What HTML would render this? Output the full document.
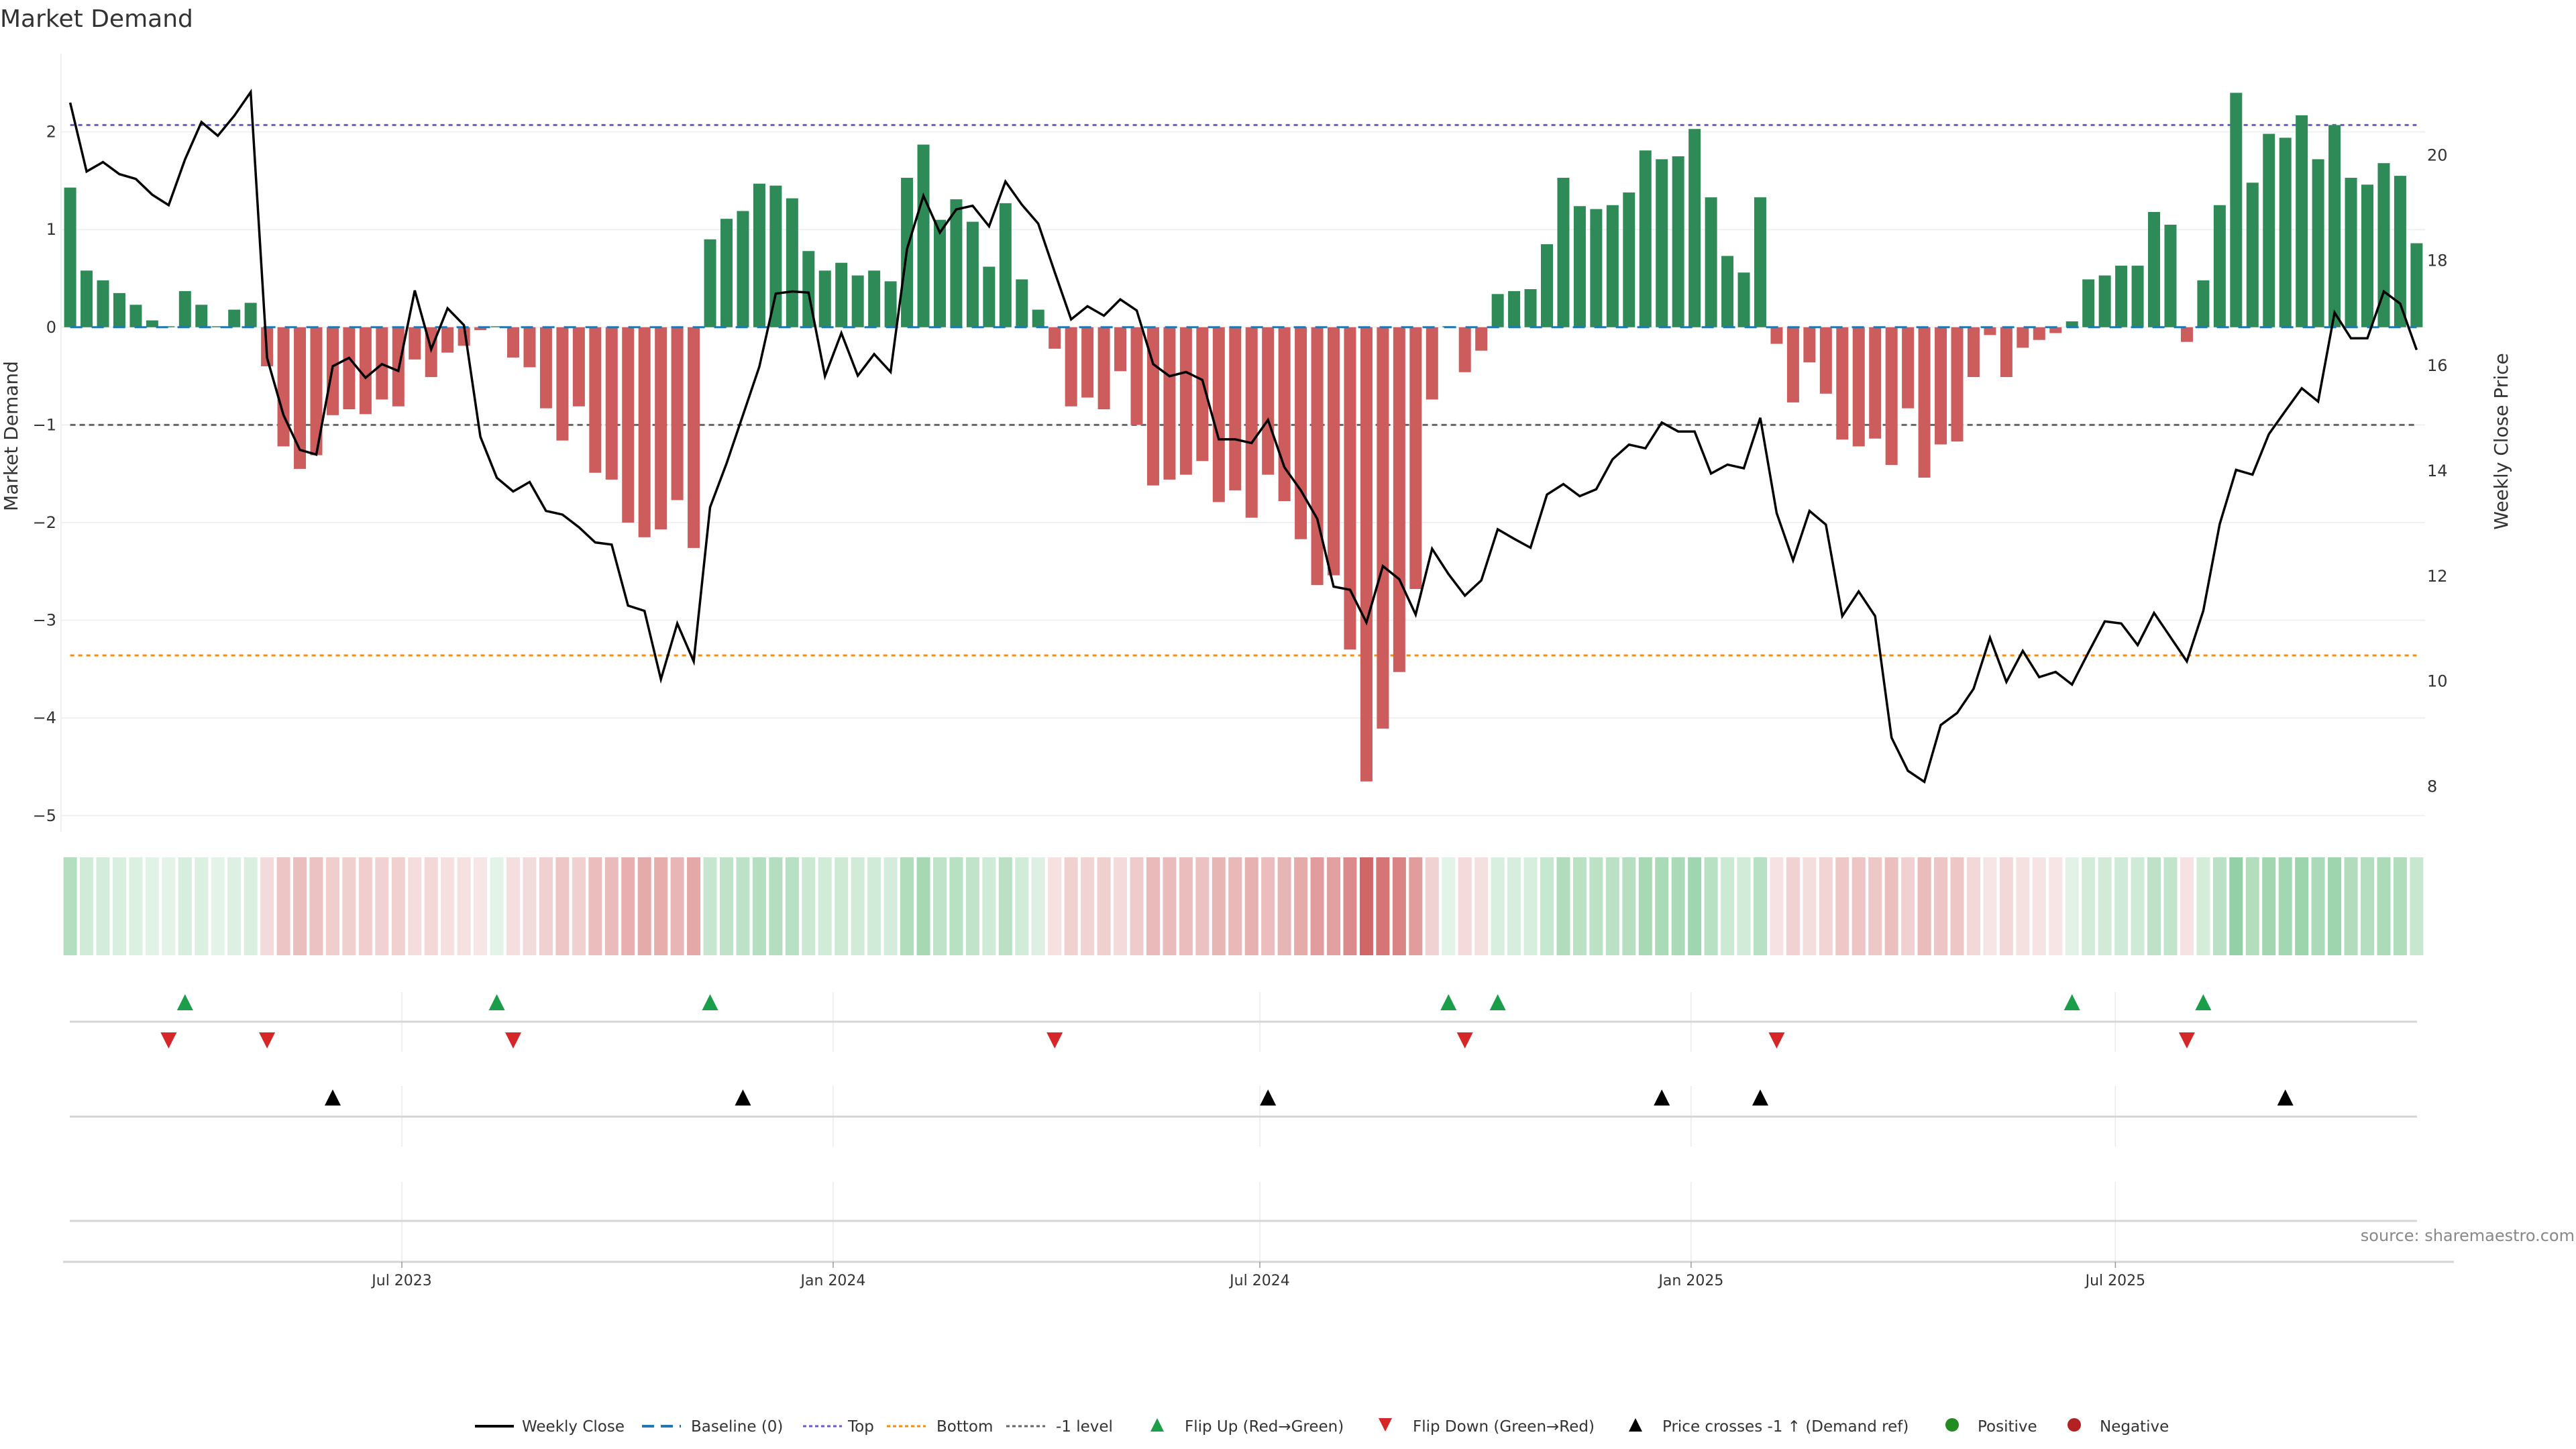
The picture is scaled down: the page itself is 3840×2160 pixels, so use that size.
<!DOCTYPE html>
<html><head><meta charset="utf-8"><title>Market Demand</title>
<style>
html,body{margin:0;padding:0;background:#fff;}
svg{display:block;font-family:"DejaVu Sans","Liberation Sans",sans-serif;}
</style></head>
<body>
<svg id="chart" width="3840" height="2160" viewBox="0 0 3840 2160" xmlns="http://www.w3.org/2000/svg">
<rect width="3840" height="2160" fill="#fff"/>
<text x="0" y="40" font-size="36" fill="#333">Market Demand</text>
<g id="grid"></g><g id="refs"></g><g id="bars"></g><g id="line"></g><g id="axes"></g>
<g id="heat"></g><g id="markers"></g><g id="legend"></g>
<text x="3838" y="1850" font-size="24" fill="#888" text-anchor="end">source: sharemaestro.com</text>
</svg>
<script>
const demand=[1.43,0.58,0.48,0.35,0.23,0.07,0.01,0.37,0.23,0.01,0.18,0.25,-0.40,-1.22,-1.45,-1.31,-0.90,-0.84,-0.89,-0.74,-0.81,-0.33,-0.51,-0.26,-0.19,-0.03,0.01,-0.31,-0.41,-0.83,-1.16,-0.81,-1.49,-1.56,-2.00,-2.15,-2.07,-1.77,-2.26,0.90,1.11,1.19,1.47,1.45,1.32,0.78,0.58,0.66,0.53,0.58,0.47,1.53,1.87,1.10,1.31,1.08,0.62,1.27,0.49,0.18,-0.22,-0.81,-0.72,-0.84,-0.45,-1.00,-1.62,-1.56,-1.51,-1.37,-1.79,-1.67,-1.95,-1.51,-1.78,-2.17,-2.64,-2.54,-3.30,-4.65,-4.11,-3.53,-2.68,-0.74,0.01,-0.46,-0.24,0.34,0.37,0.39,0.85,1.53,1.24,1.21,1.25,1.38,1.81,1.72,1.75,2.03,1.33,0.73,0.56,1.33,-0.17,-0.77,-0.36,-0.68,-1.15,-1.22,-1.14,-1.41,-0.83,-1.54,-1.20,-1.17,-0.51,-0.08,-0.51,-0.21,-0.13,-0.06,0.06,0.49,0.53,0.63,0.63,1.18,1.05,-0.15,0.48,1.25,2.40,1.48,1.98,1.94,2.17,1.72,2.07,1.53,1.46,1.68,1.55,0.86];
const price=[21.0,19.69,19.87,19.64,19.55,19.25,19.05,19.92,20.63,20.37,20.75,21.20,16.15,15.06,14.40,14.31,15.99,16.15,15.77,16.03,15.90,17.43,16.31,17.09,16.77,14.65,13.87,13.61,13.79,13.24,13.17,12.93,12.64,12.60,11.44,11.34,10.04,11.10,10.38,13.31,14.14,15.06,15.98,17.37,17.41,17.39,15.80,16.62,15.81,16.22,15.88,18.22,19.23,18.53,18.97,19.04,18.65,19.50,19.06,18.70,17.78,16.88,17.13,16.95,17.26,17.05,16.03,15.80,15.88,15.73,14.60,14.60,14.53,14.97,14.07,13.63,13.09,11.80,11.74,11.12,12.19,11.94,11.27,12.52,12.04,11.63,11.92,12.89,12.71,12.54,13.55,13.75,13.52,13.65,14.22,14.50,14.43,14.92,14.75,14.75,13.95,14.12,14.05,15.01,13.20,12.30,13.24,12.98,11.24,11.71,11.24,8.93,8.30,8.09,9.17,9.40,9.86,10.83,9.99,10.58,10.08,10.18,9.94,10.55,11.14,11.10,10.69,11.30,10.84,10.38,11.34,12.99,14.02,13.93,14.70,15.14,15.57,15.32,17.01,16.52,16.52,17.41,17.18,16.30];
const flipUp=[7,26,39,84,87,122,130];
const flipDown=[6,12,27,60,85,104,129];
const priceCross=[16,41,73,97,103,135];
const leftTicks=[2,1,0,-1,-2,-3,-4,-5];
const rightTicks=[8,10,12,14,16,18,20];
const refTop=2.07, refBottom=-3.36, refLevel=-1;
const xTickLabels=["Jul 2023","Jan 2024","Jul 2024","Jan 2025","Jul 2025"];
const xTickDates=["2023-07-01","2024-01-01","2024-07-01","2025-01-01","2025-07-01"];

const NS="http://www.w3.org/2000/svg";
function mk(tag,attrs,parent){const e=document.createElementNS(NS,tag);for(const k in attrs)e.setAttribute(k,attrs[k]);parent.appendChild(e);return e;}
const X0=104.6, DX=24.46, BW=18;
const xi=i=>X0+i*DX;
const startMs=Date.UTC(2023,1,9,12);
const xd=s=>X0+(Date.parse(s)-startMs)/86400000/7*DX;
const yL=v=>487.8-v*145.6;
const yR=p=>231.4+(20-p)*78.43;
const PL=91, PR=3615;
const G=id=>document.getElementById(id);

const grid=G('grid');
leftTicks.forEach(t=>{const l=mk('line',{x1:PL,x2:PR,y1:yL(t),y2:yL(t),stroke:'#eef0f3','stroke-width':2},grid);

});
mk('line',{x1:PL,x2:PL,y1:80,y2:1240,stroke:'#eef0f3','stroke-width':2},grid);
xTickDates.forEach(d=>{const x=xd(d);
[[1479,1568],[1619,1709],[1762,1881]].forEach(r=>{const l=mk('line',{x1:x,x2:x,y1:r[0],y2:r[1],stroke:'#e8eaed','stroke-width':1.5},grid);

});});
[1523,1664.5,1820].forEach(y=>{const l=mk('line',{x1:104,x2:3603,y1:y,y2:y,stroke:'#d6d6d6','stroke-width':3},grid);

});

const bars=G('bars');
demand.forEach((v,i)=>{const y0=yL(0),y1=yL(v);
const r=mk('rect',{x:xi(i)-BW/2,width:BW,y:Math.min(y0,y1),height:Math.max(0.5,Math.abs(y1-y0)),fill:v>=0?'#2e8b57':'#cd5c5c'},bars);

});

const refs=G('refs');
function refLine(v,color,dash,name){const l=mk('line',{x1:xi(0),x2:xi(demand.length-1),y1:yL(v),y2:yL(v),stroke:color,'stroke-width':3,'stroke-dasharray':dash},refs);

}
refLine(refTop,'#6a5acd','6,6','top-line');
refLine(refBottom,'#ff8c00','6,6','bottom-line');
refLine(refLevel,'#666','8,6','minus-one-level-line');
const base=mk('line',{x1:xi(0),x2:xi(demand.length-1),y1:yL(0),y2:yL(0),stroke:'#1f77b4','stroke-width':3,'stroke-dasharray':'18,14'},G('bars'));



const pts=price.map((p,i)=>xi(i).toFixed(1)+','+yR(p).toFixed(1)).join(' ');
const pl=mk('polyline',{points:pts,fill:'none',stroke:'#000','stroke-width':3.5,'stroke-linejoin':'miter'},G('line'));



const axes=G('axes');
leftTicks.forEach(t=>{const tx=mk('text',{x:84,y:yL(t)+8,'font-size':24,fill:'#333','text-anchor':'end'},axes);
tx.textContent=(t<0?'\u2212'+(-t):String(t));

});
rightTicks.forEach(t=>{const tx=mk('text',{x:3618,y:yR(t)+8,'font-size':24,fill:'#333'},axes);
tx.textContent=String(t);

});
const yt=mk('text',{x:0,y:0,'font-size':28,fill:'#333','text-anchor':'middle',transform:'translate(26,650) rotate(-90)'},axes);
yt.textContent='Market Demand';


const yt2=mk('text',{x:0,y:0,'font-size':28,fill:'#333','text-anchor':'middle',transform:'translate(3738,658) rotate(-90)'},axes);
yt2.textContent='Weekly Close Price';


const xa=mk('line',{x1:94,x2:3658,y1:1881,y2:1881,stroke:'#d4d4d4','stroke-width':3},axes);


xTickDates.forEach((d,k)=>{const x=xd(d);
const tk=mk('line',{x1:x,x2:x,y1:1881,y2:1890,stroke:'#999','stroke-width':1.5},axes);


const tx=mk('text',{x:x,y:1916,'font-size':22,fill:'#333','text-anchor':'middle'},axes);
tx.textContent=xTickLabels[k];

});

const heat=G('heat');
demand.forEach((v,i)=>{const a=v>=0?Math.min(1,0.14+0.17*v):Math.min(1,0.15+0.17*(-v));
const b=v>=0?[60,170,90]:[205,92,92];
const c=b.map(ch=>Math.round(255-(255-ch)*a));
const r=mk('rect',{x:xi(i)-10,width:20,y:1278,height:146,fill:'rgb('+c.join(',')+')'},heat);

});

const mg=G('markers');
function tri(x,y,up,color,name){const s=12;
const p=up?`${x},${y-s} ${x-s},${y+s} ${x+s},${y+s}`:`${x},${y+s} ${x-s},${y-s} ${x+s},${y-s}`;
const e=mk('polygon',{points:p,fill:color},mg);

}
flipUp.forEach(i=>tri(xi(i),1494,true,'#1a9e4a','flip-up-marker'));
flipDown.forEach(i=>tri(xi(i),1551,false,'#d62728','flip-down-marker'));
priceCross.forEach(i=>tri(xi(i),1636,true,'#000','price-cross-marker'));

const lg=G('legend');const LY=2126;
function ltext(x,s){const t=mk('text',{x:x,y:LY+8,'font-size':23,fill:'#333'},lg);t.textContent=s;

}
function lline(x,color,dash,w){const l=mk('line',{x1:x,x2:x+58,y1:LY,y2:LY,stroke:color,'stroke-width':w,'stroke-dasharray':dash},lg);

}
lline(708,'#000','none',4);ltext(778,'Weekly Close');
lline(957,'#1f77b4','18,10',4);ltext(1030,'Baseline (0)');
lline(1197,'#6a5acd','5,4',3);ltext(1264,'Top');
lline(1322,'#ff8c00','5,4',3);ltext(1396,'Bottom');
lline(1500,'#666','5,4',3);ltext(1574,'-1 level');
function ltri(x,up,color){const s=10;const y=LY-2;
const p=up?`${x},${y-s} ${x-s},${y+s} ${x+s},${y+s}`:`${x},${y+s} ${x-s},${y-s} ${x+s},${y-s}`;
const e=mk('polygon',{points:p,fill:color},lg);

}
ltri(1725,true,'#1a9e4a');ltext(1766,'Flip Up (Red\u2192Green)');
ltri(2065,false,'#d62728');ltext(2106,'Flip Down (Green\u2192Red)');
ltri(2438,true,'#000');ltext(2478,'Price crosses -1 \u2191 (Demand ref)');
function ldot(x,color){const c=mk('circle',{cx:x,cy:LY-2,r:10,fill:color},lg);

}
ldot(2910,'#228b22');ltext(2948,'Positive');
ldot(3092,'#b22222');ltext(3130,'Negative');
</script>
</body></html>
